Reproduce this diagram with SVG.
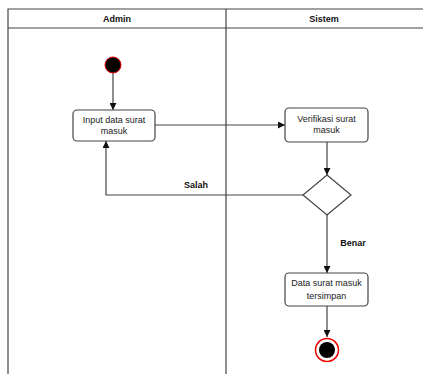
<svg xmlns="http://www.w3.org/2000/svg" width="423" height="374" viewBox="0 0 423 374">
<style>
.ln{stroke:#444;stroke-width:1.2;fill:none}
.box{fill:#fff;stroke:#444;stroke-width:1.2}
.t{font-family:"Liberation Sans",Arial,sans-serif;font-size:9px;fill:#222;text-anchor:middle}
.b{font-family:"Liberation Sans",Arial,sans-serif;font-size:9px;font-weight:bold;fill:#111;text-anchor:middle}
</style>
<defs>
<marker id="ar" viewBox="0 0 10 10" refX="10" refY="5" markerWidth="7" markerHeight="7" orient="auto" markerUnits="userSpaceOnUse">
<path d="M0,0 L10,5 L0,10 z" fill="#111"/>
</marker>
</defs>
<rect width="423" height="374" fill="#fff"/>
<g id="frame">
<path class="ln" d="M8,374 V9 H423 M8,28 H423 M226,9 V374"/>
<text class="b" x="117" y="22">Admin</text>
<text class="b" x="324" y="22">Sistem</text>
</g>
<g id="connectors">
<path class="ln" d="M113,73 V110" marker-end="url(#ar)"/>
<path class="ln" d="M155,125 H285" marker-end="url(#ar)"/>
<path class="ln" d="M327,142 V175" marker-end="url(#ar)"/>
<path class="ln" d="M303,195 H106 V141" marker-end="url(#ar)"/>
<path class="ln" d="M327,215 V273" marker-end="url(#ar)"/>
<path class="ln" d="M327,306 V337" marker-end="url(#ar)"/>
<text class="b" x="196" y="188">Salah</text>
<text class="b" x="353" y="246">Benar</text>
</g>
<g id="start">
<circle cx="113" cy="65" r="8" fill="#000" stroke="#e00" stroke-width="1"/>
</g>
<g id="input">
<rect class="box" x="73" y="110" width="82" height="31" rx="4"/>
<text class="t" x="114" y="123">Input data surat</text>
<text class="t" x="114" y="134">masuk</text>
</g>
<g id="verifikasi">
<rect class="box" x="285" y="108" width="83" height="34" rx="4"/>
<text class="t" x="326.500" y="122">Verifikasi surat</text>
<text class="t" x="326.500" y="133">masuk</text>
</g>
<g id="decision">
<polygon class="box" points="327,175 351,195 327,215 303,195"/>
</g>
<g id="simpan">
<rect class="box" x="285" y="273" width="83" height="33" rx="4"/>
<text class="t" x="326.500" y="286">Data surat masuk</text>
<text class="t" x="326.500" y="299">tersimpan</text>
</g>
<g id="end">
<circle cx="327" cy="350" r="11.500" fill="#fff" stroke="#e00" stroke-width="1.5"/>
<circle cx="327" cy="350" r="8" fill="#000"/>
</g>
</svg>
